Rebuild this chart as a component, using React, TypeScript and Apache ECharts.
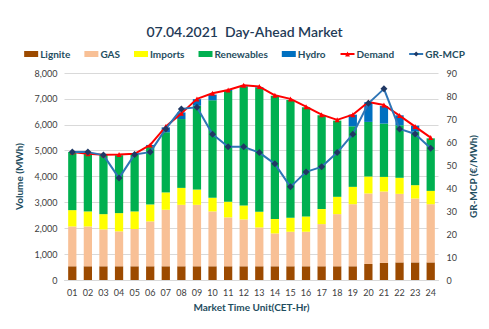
import React, { useEffect, useRef } from "react";
import * as echarts from "echarts";

const hours = ["01","02","03","04","05","06","07","08","09","10","11","12","13","14","15","16","17","18","19","20","21","22","23","24"];
const lignite = [530,530,530,530,530,530,530,530,530,530,530,530,530,530,530,530,530,530,530,620,660,680,680,680];
const gas = [1540,1540,1425,1350,1440,1735,2185,2375,2375,2120,1890,1810,1500,1270,1335,1335,1630,2015,2400,2725,2760,2650,2470,2250];
const imports = [630,580,590,705,680,655,670,655,590,525,605,540,605,555,540,590,580,670,670,655,565,620,515,515];
const renewables = [2250,2250,2305,2240,2200,2250,2325,2660,3240,3770,4280,4590,4785,4770,4550,4220,3630,2945,2340,2110,2060,2030,2070,2030];
const hydro = [0,0,0,0,0,50,190,255,255,220,40,30,30,0,0,0,0,0,450,760,680,385,230,0];
const demand = [4950,4880,4840,4850,4875,5220,5930,6440,7000,7215,7345,7525,7475,7140,7000,6700,6390,6190,6390,6880,6765,6355,5930,5505];
const mcp = [55.6,55.6,54.3,44.3,54.6,55.6,65.7,74.4,75.1,63.4,57.9,57.9,55.4,50.5,40.5,47.0,49.2,55.4,63.4,76.8,83.1,65.7,63.5,57.3];

const FONT = "Lato";
const DARK = "#1F4E5F";

export default function App() {
  const ref = useRef<HTMLDivElement>(null);
  useEffect(() => {
    const chart = echarts.init(ref.current!, null, { renderer: "svg" });
    const bar = (name: string, data: number[], color: string) => ({
      name, type: "bar", stack: "vol", data, barWidth: "53%",
      itemStyle: { color }, yAxisIndex: 0,
    });
    chart.setOption({
      animation: false,
      backgroundColor: "#fff",
      title: {
        text: "07.04.2021  Day-Ahead Market",
        left: "center", top: 19,
        textStyle: { fontFamily: FONT, fontSize: 14, fontWeight: 600, color: "#1F3B57" },
      },
      legend: {
        top: 44, left: "center", itemWidth: 14, itemHeight: 6, itemGap: 14,
        textStyle: { fontFamily: FONT, fontSize: 10, fontWeight: "bold", color: DARK, padding: [0, 0, 0, -3] },
        data: [
          { name: "Lignite", icon: "rect" },
          { name: "GAS", icon: "rect" },
          { name: "Imports", icon: "rect" },
          { name: "Renewables", icon: "rect" },
          { name: "Hydro", icon: "rect" },
          { name: "Demand" },
          { name: "GR-MCP" },
        ],
      },
      grid: { left: 64.5, right: 50.5, top: 73, bottom: 49 },
      xAxis: {
        type: "category", data: hours,
        axisTick: { show: false },
        axisLine: { lineStyle: { color: "#D9D9D9" } },
        axisLabel: { fontFamily: FONT, fontSize: 9, color: "#404040", margin: 8 },
        name: "Market Time Unit(CET-Hr)", nameLocation: "middle", nameGap: 21,
        nameTextStyle: { fontFamily: FONT, fontSize: 10, fontWeight: "bold", color: DARK },
      },
      yAxis: [
        {
          type: "value", min: 0, max: 8000, interval: 1000,
          axisLine: { show: false }, axisTick: { show: false },
          splitLine: { lineStyle: { color: "#D9D9D9" } },
          axisLabel: {
            fontFamily: FONT, fontSize: 9, color: "#404040", margin: 7,
            formatter: (v: number) => v.toLocaleString("en-US"),
          },
          name: "Volume (MWh)", nameLocation: "middle", nameGap: 36, nameRotate: 90,
          nameTextStyle: { fontFamily: FONT, fontSize: 10, fontWeight: "bold", color: DARK },
        },
        {
          type: "value", min: 0, max: 90, interval: 10,
          axisLine: { show: false }, axisTick: { show: false },
          splitLine: { show: false },
          axisLabel: { fontFamily: FONT, fontSize: 9, color: "#404040", margin: 8 },
          name: "GR-MCP (€/MWh)", nameLocation: "middle", nameGap: 26, nameRotate: 90,
          nameTextStyle: { fontFamily: FONT, fontSize: 10, fontWeight: "bold", color: DARK },
        },
      ],
      series: [
        bar("Lignite", lignite, "#9C4A00"),
        bar("GAS", gas, "#F8C096"),
        bar("Imports", imports, "#FFFF00"),
        bar("Renewables", renewables, "#00B050"),
        bar("Hydro", hydro, "#0070C0"),
        {
          name: "Demand", type: "line", data: demand, yAxisIndex: 0,
          symbol: "triangle", symbolSize: 5,
          lineStyle: { color: "#FF0000", width: 2 },
          itemStyle: { color: "#FF0000" },
        },
        {
          name: "GR-MCP", type: "line", data: mcp, yAxisIndex: 1,
          symbol: "diamond", symbolSize: 7,
          lineStyle: { color: "#2E75B6", width: 2 },
          itemStyle: { color: "#203864" },
        },
      ],
    });
    return () => chart.dispose();
  }, []);
  return <div ref={ref} style={{ width: 489, height: 329, position: "absolute", left: 0, top: 0 }} />;
}
